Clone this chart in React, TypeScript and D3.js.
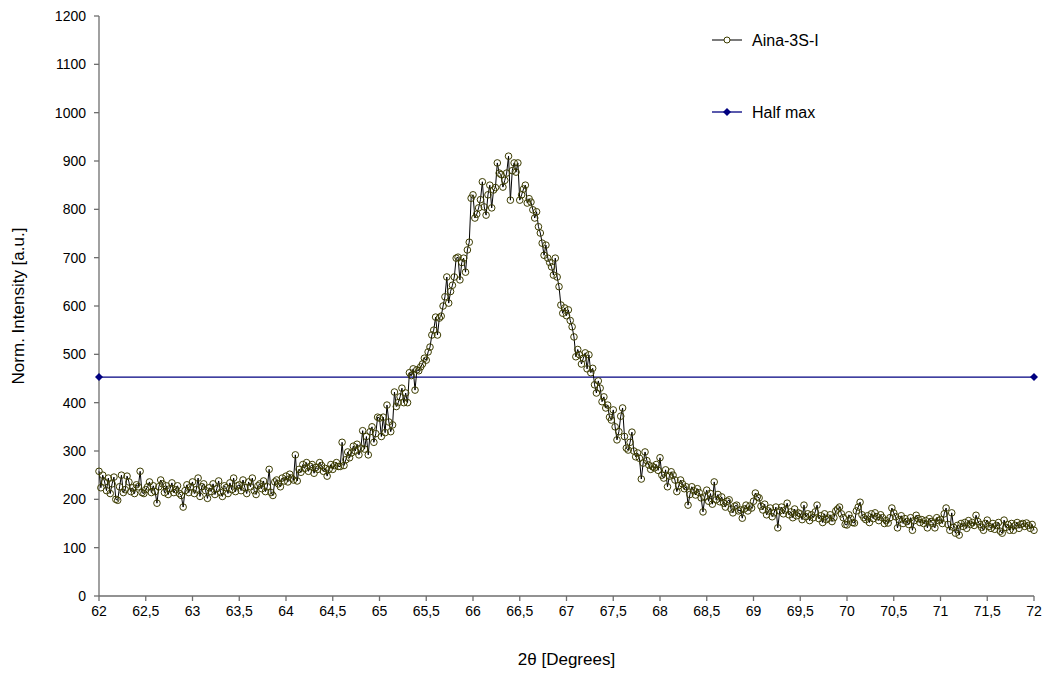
import React from "react";
import * as d3 from "d3";

// 2θ scan from 62° to 72° in 0.02° steps (501 points), one row per 0.5°
const thetaStart = 62;
const thetaStep = 0.02;
const intensity: number[] = [
  258, 224, 250, 236, 218, 244, 212, 232, 246, 200, 198, 226, 250, 214, 220, 248, 236, 216, 224, 212, 230, 226, 258, 214, 212,
  220, 226, 236, 214, 228, 216, 192, 226, 240, 232, 214, 228, 210, 222, 234, 214, 220, 228, 212, 208, 184, 218, 230, 214, 226,
  236, 212, 220, 244, 206, 226, 232, 218, 202, 224, 216, 232, 210, 222, 238, 214, 206, 228, 224, 212, 234, 220, 244, 216, 228,
  230, 218, 240, 224, 212, 236, 226, 244, 218, 210, 228, 232, 222, 238, 216, 226, 262, 214, 208, 236, 240, 232, 226, 244, 238,
  248, 236, 252, 244, 240, 292, 238, 262, 256, 272, 264, 276, 258, 268, 272, 254, 266, 262, 276, 270, 258, 264, 248, 262, 272,
  262, 270, 276, 268, 268, 318, 270, 282, 298, 286, 296, 310, 300, 314, 292, 306, 342, 304, 330, 292, 340, 350, 318, 336, 370,
  368, 330, 370, 338, 395, 360, 340, 354, 422, 392, 400, 412, 430, 400, 420, 400, 462, 456, 470, 426, 468, 466, 474, 480, 492,
  488, 505, 515, 540, 550, 577, 540, 575, 579, 600, 619, 660, 606, 630, 643, 660, 699, 701, 654, 690, 699, 670, 716, 732, 823,
  830, 782, 790, 803, 820, 857, 805, 788, 830, 850, 803, 840, 845, 896, 875, 872, 846, 860, 875, 910, 819, 880, 896, 877, 896,
  819, 830, 842, 850, 813, 822, 815, 799, 782, 795, 764, 751, 730, 705, 726, 699, 690, 681, 664, 699, 660, 640, 602, 585, 596,
  580, 592, 570, 557, 536, 495, 510, 499, 480, 492, 503, 470, 499, 462, 471, 437, 420, 445, 430, 402, 412, 389, 395, 370, 364,
  385, 350, 323, 340, 372, 389, 330, 306, 302, 318, 339, 300, 288, 296, 285, 242, 275, 298, 280, 271, 262, 268, 265, 272, 260,
  286, 250, 244, 261, 226, 248, 257, 250, 240, 216, 228, 240, 232, 222, 226, 188, 210, 226, 218, 209, 222, 214, 203, 174, 205,
  219, 196, 212, 190, 236, 199, 210, 195, 205, 192, 184, 196, 199, 180, 172, 186, 188, 176, 178, 161, 180, 188, 176, 186, 182,
  196, 213, 205, 203, 186, 178, 190, 168, 176, 182, 164, 172, 184, 141, 176, 184, 170, 178, 192, 168, 174, 162, 180, 166, 172,
  170, 158, 188, 164, 170, 156, 168, 162, 174, 188, 160, 166, 152, 170, 158, 161, 168, 154, 162, 176, 180, 184, 170, 162, 148,
  147, 168, 160, 152, 151, 176, 184, 194, 168, 162, 158, 166, 152, 170, 160, 172, 164, 156, 168, 162, 150, 156, 151, 162, 182,
  172, 164, 141, 158, 166, 150, 160, 154, 148, 162, 136, 156, 167, 160, 152, 158, 150, 156, 141, 160, 154, 150, 141, 162, 156,
  158, 150, 170, 182, 148, 136, 172, 142, 130, 146, 126, 150, 144, 152, 140, 156, 148, 152, 146, 167, 154, 148, 142, 136, 150,
  157, 144, 140, 150, 138, 146, 152, 134, 130, 157, 142, 148, 136, 150, 136, 146, 152, 140, 148, 150, 144, 151, 146, 140, 148,
  136,
];

const halfMaxX = [62, 72];
const halfMaxValue = 453;

const xTicks = d3.range(0, 21).map((i) => 62 + i * 0.5);
const yTicks = d3.range(0, 13).map((i) => i * 100);

const seriesName = "Aina-3S-I";
const halfMaxName = "Half max";
const xTitle = "2θ [Degrees]";
const yTitle = "Norm. Intensity [a.u.]";

const W = 1047;
const H = 675;
const plot = { left: 99, right: 1034, top: 16, bottom: 596 };
const font = "Arial, 'Liberation Sans', sans-serif";
const axisColor = "#6e6e6e";
const markerColor = "#3c3c00";
const navy = "#000080";

export default function App() {
  const x = d3.scaleLinear().domain([62, 72]).range([plot.left, plot.right]);
  const y = d3.scaleLinear().domain([0, 1200]).range([plot.bottom, plot.top]);

  const points = intensity.map((v, i) => ({ t: thetaStart + i * thetaStep, v }));
  const line = d3
    .line<{ t: number; v: number }>()
    .x((d) => x(d.t))
    .y((d) => y(d.v));

  const fmtX = (v: number) => (Number.isInteger(v) ? String(v) : String(v).replace(".", ","));

  const diamond = (cx: number, cy: number, r: number) =>
    `M${cx},${cy - r}L${cx + r},${cy}L${cx},${cy + r}L${cx - r},${cy}Z`;

  const legendX = 712;
  const legendY1 = 40;
  const legendY2 = 112;

  return (
    <svg width={W} height={H} style={{ display: "block", position: "absolute", left: 0, top: 0, background: "#fff" }}>
      {/* axes */}
      <line x1={plot.left} x2={plot.left} y1={plot.top} y2={plot.bottom} stroke={axisColor} strokeWidth={1.3} />
      <line x1={plot.left} x2={plot.right} y1={plot.bottom} y2={plot.bottom} stroke={axisColor} strokeWidth={1.3} />
      {yTicks.map((t) => (
        <g key={"y" + t}>
          <line x1={plot.left - 5} x2={plot.left} y1={y(t)} y2={y(t)} stroke={axisColor} strokeWidth={1.3} />
          <text x={plot.left - 13} y={y(t)} dy="0.35em" textAnchor="end" fontFamily={font} fontSize={14} fill="#000">
            {t}
          </text>
        </g>
      ))}
      {xTicks.map((t) => (
        <g key={"x" + t}>
          <line x1={x(t)} x2={x(t)} y1={plot.bottom} y2={plot.bottom + 5} stroke={axisColor} strokeWidth={1.3} />
          <text x={x(t)} y={plot.bottom + 20} textAnchor="middle" fontFamily={font} fontSize={14} fill="#000">
            {fmtX(t)}
          </text>
        </g>
      ))}

      {/* axis titles */}
      <text x={(plot.left + plot.right) / 2} y={665} textAnchor="middle" fontFamily={font} fontSize={17} fill="#000">
        {xTitle}
      </text>
      <text
        transform={`translate(24, ${(plot.top + plot.bottom) / 2}) rotate(-90)`}
        textAnchor="middle"
        fontFamily={font}
        fontSize={17}
        fill="#000"
      >
        {yTitle}
      </text>

      {/* half-maximum level */}
      <line x1={x(halfMaxX[0])} x2={x(halfMaxX[1])} y1={y(halfMaxValue)} y2={y(halfMaxValue)} stroke={navy} strokeWidth={1.3} />
      {halfMaxX.map((t) => (
        <path key={"hm" + t} d={diamond(x(t), y(halfMaxValue), 4)} fill={navy} />
      ))}

      {/* measured scan */}
      <path d={line(points) ?? ""} fill="none" stroke="#000" strokeWidth={1} />
      {points.map((p, i) => (
        <circle key={i} cx={x(p.t)} cy={y(p.v)} r={3.3} fill="none" stroke={markerColor} strokeWidth={1} />
      ))}

      {/* legend */}
      <line x1={legendX} x2={legendX + 30} y1={legendY1} y2={legendY1} stroke="#333" strokeWidth={1.3} />
      <circle cx={legendX + 15} cy={legendY1} r={3} fill="#fff" stroke={markerColor} strokeWidth={1} />
      <text x={legendX + 40} y={legendY1} dy="0.35em" fontFamily={font} fontSize={16} fill="#000">
        {seriesName}
      </text>
      <line x1={legendX} x2={legendX + 30} y1={legendY2} y2={legendY2} stroke={navy} strokeWidth={1.3} />
      <path d={diamond(legendX + 15, legendY2, 4)} fill={navy} />
      <text x={legendX + 40} y={legendY2} dy="0.35em" fontFamily={font} fontSize={16} fill="#000">
        {halfMaxName}
      </text>
    </svg>
  );
}
